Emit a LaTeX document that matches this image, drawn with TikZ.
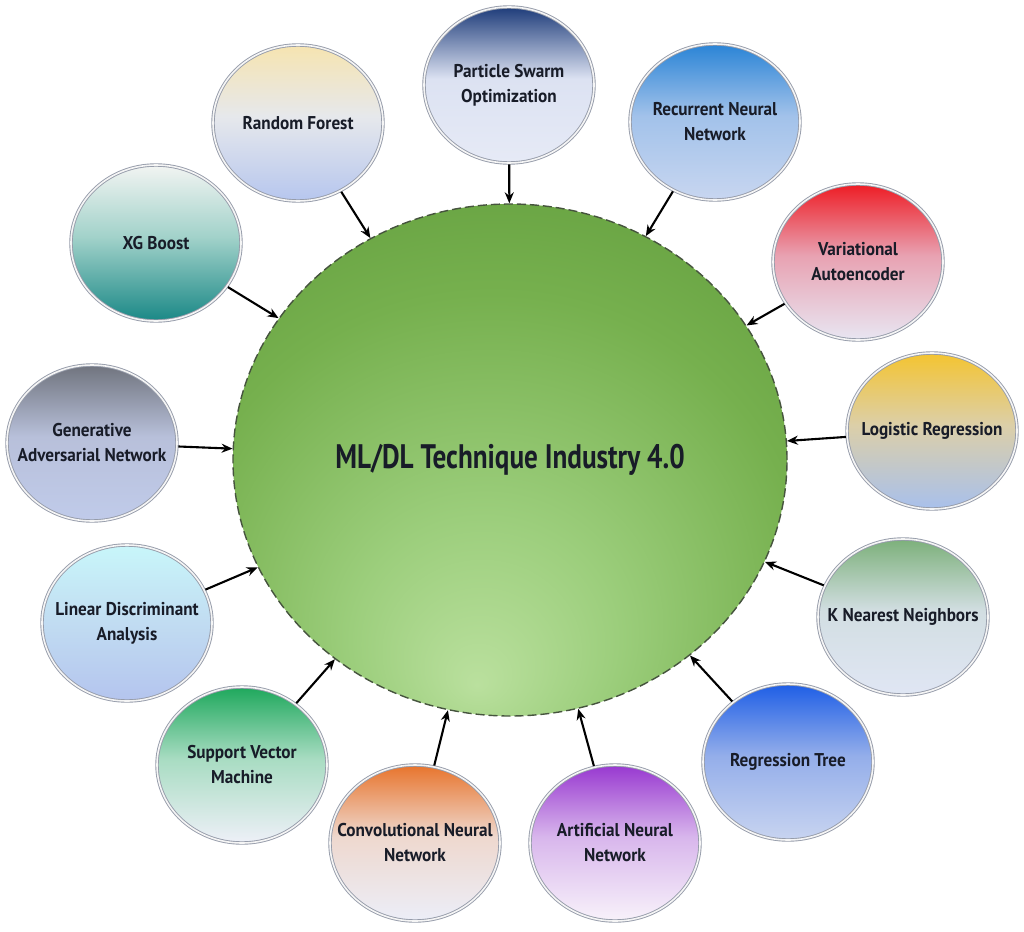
\documentclass[tikz,border=0pt]{standalone}
\usepackage{fontspec}
\setmainfont{PT Sans}[FakeStretch=0.93]
\newfontfamily\hubfont{PT Sans}[FakeStretch=0.8]
\usepackage{xcolor}
\usetikzlibrary{shapes.geometric,arrows.meta}
\definecolor{inkDark}{RGB}{24, 28, 40}
\definecolor{ringGray}{RGB}{150, 156, 170}
\definecolor{hubEdge}{RGB}{70, 84, 62}
\definecolor{techTop}{RGB}{255,255,255}
\definecolor{techMid}{RGB}{255,255,255}
\definecolor{techBottom}{RGB}{255,255,255}
\pgfdeclareverticalshading[techTop,techMid,techBottom]{techfade}{100bp}{%
  color(0bp)=(techBottom); color(25bp)=(techBottom); color(52bp)=(techMid);
  color(75bp)=(techTop); color(100bp)=(techTop)}
\pgfdeclareradialshading{hubglow}{\pgfpoint{-3bp}{-22bp}}{%
  color(0bp)=(rgb,255:red,186;green,224;blue,158);
  color(12bp)=(rgb,255:red,156;green,206;blue,124);
  color(28bp)=(rgb,255:red,118;green,176;blue,78);
  color(44bp)=(rgb,255:red,92;green,152;blue,56);
  color(60bp)=(rgb,255:red,88;green,146;blue,52)}
\tikzset{
  hub/.style={ellipse, minimum width=554pt, minimum height=512pt, inner sep=0pt,
    draw=hubEdge, line width=1.4pt, dash pattern=on 9pt off 4pt,
    shading=hubglow, text=inkDark, font=\hubfont\fontsize{34}{38}\selectfont\bfseries},
  technique/.style={ellipse, minimum width=170pt, minimum height=156pt,
    inner xsep=-40pt, inner ysep=0pt,
    draw=ringGray, line width=0.9pt, double=white!92!gray, double distance=1.6pt,
    align=center, text=inkDark, font=\fontsize{18.5}{25}\selectfont\bfseries},
  tones/.code args={#1/#2/#3}{\colorlet{techTop}{#1}\colorlet{techMid}{#2}%
    \colorlet{techBottom}{#3}\tikzset{shading=techfade}},
  feed/.style={-{Stealth[length=11pt,width=9pt]}, line width=2.1pt, black,
    shorten <=1pt}
}
\definecolor{psoTop}{HTML}{1E3C7A}    \definecolor{psoMid}{HTML}{DCE2F2}    \definecolor{psoBottom}{HTML}{E6EAF6}
\definecolor{rnnTop}{HTML}{2A84D6}    \definecolor{rnnMid}{HTML}{A2C2EA}    \definecolor{rnnBottom}{HTML}{C8D6F0}
\definecolor{vaeTop}{HTML}{EE1C24}    \definecolor{vaeMid}{HTML}{E8A2B2}    \definecolor{vaeBottom}{HTML}{E8E6F2}
\definecolor{logTop}{HTML}{F4C430}    \definecolor{logMid}{HTML}{DCCFA8}    \definecolor{logBottom}{HTML}{A8C0EC}
\definecolor{knnTop}{HTML}{7CB07A}    \definecolor{knnMid}{HTML}{D2DEE2}    \definecolor{knnBottom}{HTML}{E0E6F4}
\definecolor{rtTop}{HTML}{1E5EE6}     \definecolor{rtMid}{HTML}{94AEEA}     \definecolor{rtBottom}{HTML}{C8D4F0}
\definecolor{annTop}{HTML}{9838D0}    \definecolor{annMid}{HTML}{D8B6EC}    \definecolor{annBottom}{HTML}{F8F2FA}
\definecolor{cnnTop}{HTML}{E8742C}    \definecolor{cnnMid}{HTML}{EED8CE}    \definecolor{cnnBottom}{HTML}{ECEEF8}
\definecolor{svmTop}{HTML}{1EA85C}    \definecolor{svmMid}{HTML}{A8DCC2}    \definecolor{svmBottom}{HTML}{EEF0F8}
\definecolor{ldaTop}{HTML}{C8F6FA}    \definecolor{ldaMid}{HTML}{C2DEF2}    \definecolor{ldaBottom}{HTML}{B4C4EE}
\definecolor{ganTop}{HTML}{70747E}    \definecolor{ganMid}{HTML}{B8C0DA}    \definecolor{ganBottom}{HTML}{C0CBEA}
\definecolor{xgbTop}{HTML}{F2F4F2}    \definecolor{xgbMid}{HTML}{A2D2CA}    \definecolor{xgbBottom}{HTML}{1A8886}
\definecolor{rfTop}{HTML}{F6E4B0}     \definecolor{rfMid}{HTML}{E6E8EC}     \definecolor{rfBottom}{HTML}{B6C6EE}
\begin{document}
\begin{tikzpicture}[x=1pt,y=1pt]
    \useasboundingbox (0,0) rectangle (1024,-931);

    \node[hub] (core) at (510,-460) {ML/DL Technique Industry 4.0};

    \node[technique, tones=psoTop/psoMid/psoBottom] (pso) at (509,-85) {Particle Swarm\\Optimization};
    \node[technique, tones=rnnTop/rnnMid/rnnBottom] (rnn) at (715,-122) {Recurrent Neural\\Network};
    \node[technique, tones=vaeTop/vaeMid/vaeBottom] (vae) at (858,-262) {Variational\\Autoencoder};
    \node[technique, tones=logTop/logMid/logBottom] (logreg) at (932,-431) {Logistic Regression};
    \node[technique, tones=knnTop/knnMid/knnBottom] (knn) at (903,-617) {K Nearest Neighbors};
    \node[technique, tones=rtTop/rtMid/rtBottom] (rtree) at (788,-762) {Regression Tree};
    \node[technique, tones=annTop/annMid/annBottom] (ann) at (615,-843) {Artificial Neural\\Network};
    \node[technique, tones=cnnTop/cnnMid/cnnBottom] (cnn) at (415,-843) {Convolutional Neural\\Network};
    \node[technique, tones=svmTop/svmMid/svmBottom] (svm) at (242,-765) {Support Vector\\Machine};
    \node[technique, tones=ldaTop/ldaMid/ldaBottom] (lda) at (127,-623) {Linear Discriminant\\Analysis};
    \node[technique, tones=ganTop/ganMid/ganBottom] (gan) at (92,-443) {Generative\\Adversarial Network};
    \node[technique, tones=xgbTop/xgbMid/xgbBottom] (xgb) at (156,-243) {XG Boost};
    \node[technique, tones=rfTop/rfMid/rfBottom] (rforest) at (298,-123) {Random Forest};

    \draw[feed] (pso) -- (core);
    \draw[feed] (rnn) -- (core);
    \draw[feed] (vae) -- (core);
    \draw[feed] (logreg) -- (core);
    \draw[feed] (knn) -- (core);
    \draw[feed] (rtree) -- (core);
    \draw[feed] (ann) -- (core);
    \draw[feed] (cnn) -- (core);
    \draw[feed] (svm) -- (core);
    \draw[feed] (lda) -- (core);
    \draw[feed] (gan) -- (core);
    \draw[feed] (xgb) -- (core);
    \draw[feed] (rforest) -- (core);
\end{tikzpicture}
\end{document}
